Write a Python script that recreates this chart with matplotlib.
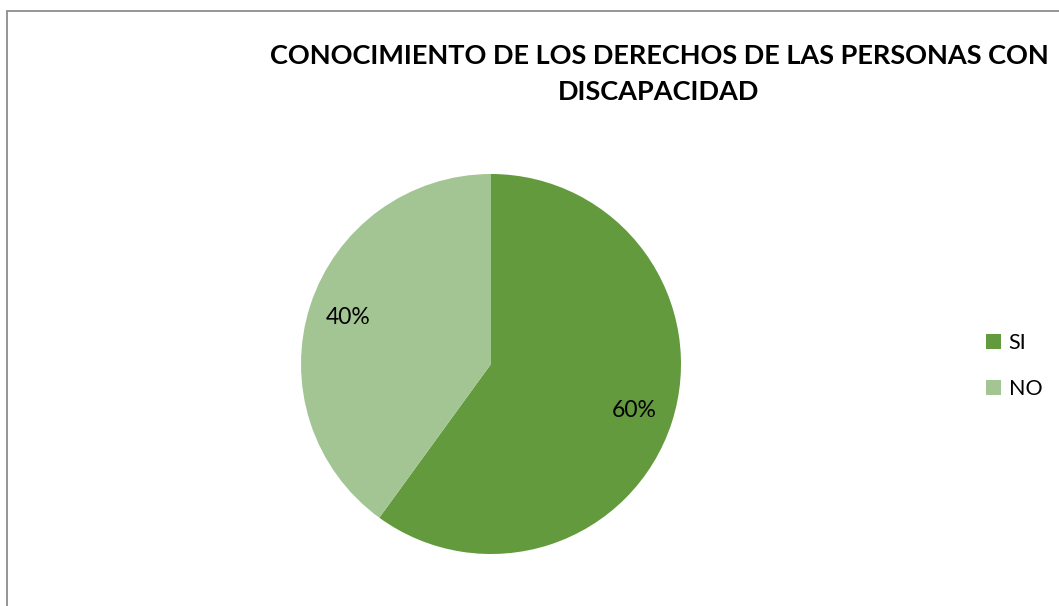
import matplotlib.pyplot as plt
from matplotlib.patches import Rectangle

# Datos del gráfico
categorias = ['SI', 'NO']
porcentajes = [60, 40]
colores = ['#629A3D', '#A3C593']
titulo = 'CONOCIMIENTO DE LOS DERECHOS DE LAS PERSONAS CON\nDISCAPACIDAD'

plt.rcParams['font.family'] = ['Lato', 'DejaVu Sans']

W, H = 1059, 606
fig = plt.figure(figsize=(W / 100, H / 100), dpi=100)

# Marco gris del área del gráfico
fig.patches.append(Rectangle((7 / W, -0.1), 1.2, (H - 11) / H + 0.1,
                             transform=fig.transFigure, fill=False,
                             edgecolor='#8c8c8c', linewidth=1.3))

# Ejes de la torta (centro ~ (491, 364), radio ~190 px)
ax = fig.add_axes([301 / W, 52 / H, 380 / W, 380 / H])
cunas, textos, autotextos = ax.pie(
    porcentajes, colors=colores, startangle=90, counterclock=False,
    autopct='%1.0f%%', pctdistance=0.79, radius=1,
    textprops={'fontsize': 16.5, 'color': 'black'})
ax.set_xlim(-1, 1)
ax.set_ylim(-1, 1)
ax.set_aspect('equal')

# Título
fig.text(659 / W, 1 - 74 / H, titulo, ha='center', va='center',
         fontsize=19.5, fontweight='bold', linespacing=1.55)

# Leyenda
fig.legend(cunas, categorias, loc='center left',
           bbox_to_anchor=(967 / W, 1 - 366 / H), frameon=False,
           fontsize=15.5, handlelength=0.68, handleheight=0.68,
           handletextpad=0.35, labelspacing=1.2)

plt.savefig('out.png', dpi=100)
